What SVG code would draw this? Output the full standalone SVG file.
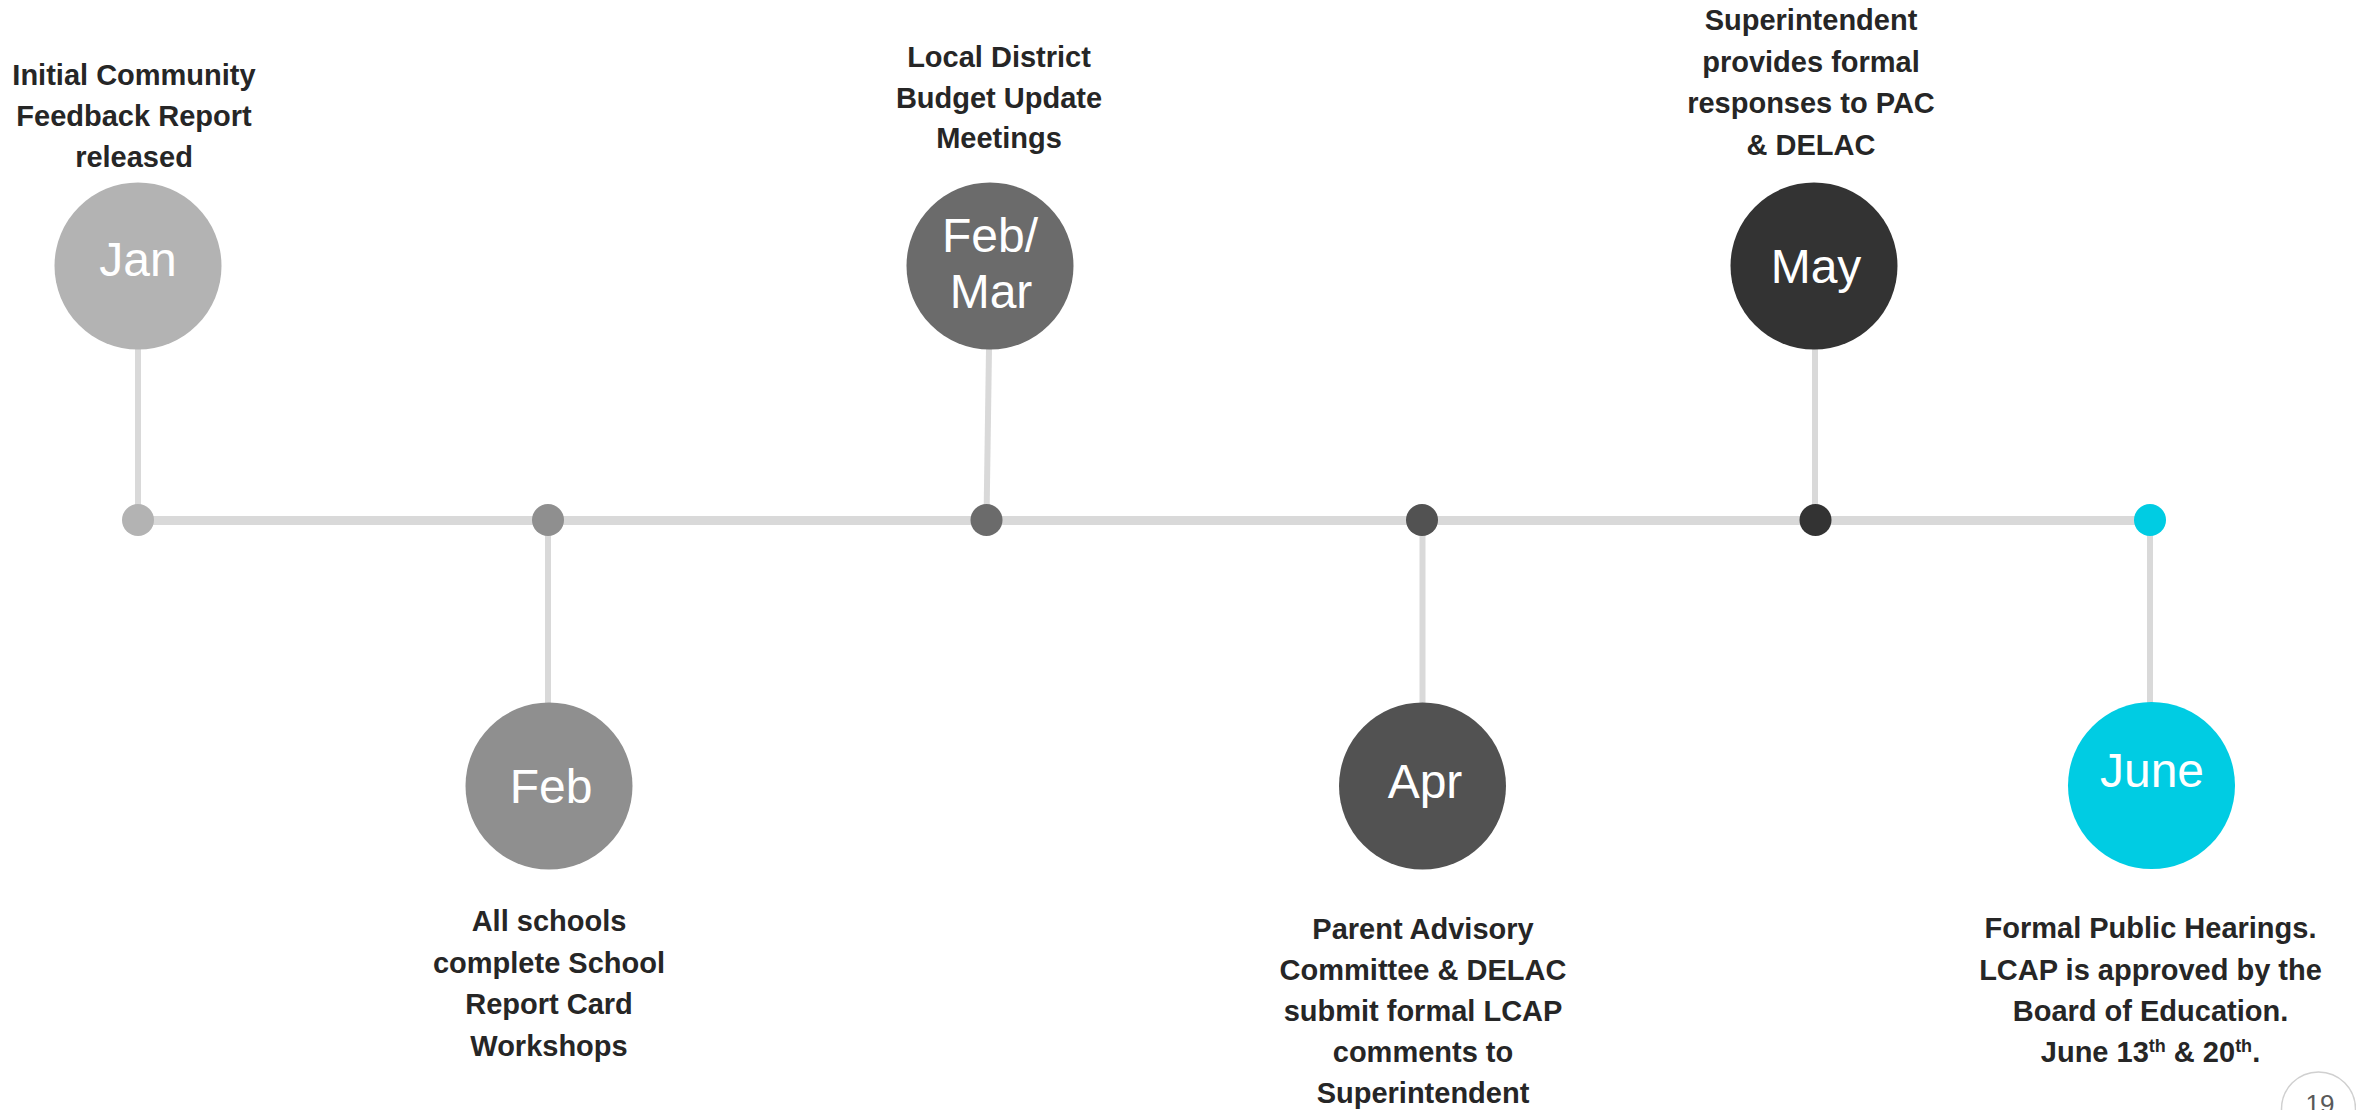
<svg xmlns="http://www.w3.org/2000/svg" width="2356" height="1110" viewBox="0 0 2356 1110">
<style>
.conn{stroke:#D9D9D9;stroke-width:6;fill:none}
.axis{stroke:#D9D9D9;stroke-width:9;fill:none}
.month{font-family:"Liberation Sans",Arial,sans-serif;font-size:48px;fill:#FFFFFF;text-anchor:middle}
.desc{font-family:"Liberation Sans",Arial,sans-serif;font-size:29px;font-weight:bold;fill:#262626;text-anchor:middle}
.sup{font-size:18px}
.page{font-family:"Liberation Sans",Arial,sans-serif;font-size:26px;fill:#595959;text-anchor:middle}
</style>
<rect width="2356" height="1110" fill="#FFFFFF"/>
<g id="connectors">
<line class="axis" x1="138" y1="520.5" x2="2150" y2="520.5"/>
<line class="conn" x1="138" y1="349" x2="138" y2="520"/>
<line class="conn" x1="548" y1="520" x2="548" y2="703"/>
<line class="conn" x1="989" y1="349" x2="986.5" y2="520"/>
<line class="conn" x1="1422.5" y1="520" x2="1422.5" y2="703"/>
<line class="conn" x1="1815" y1="349" x2="1815" y2="520"/>
<line class="conn" x1="2150" y1="520" x2="2150" y2="703"/>
</g>
<g id="node-jan">
<circle cx="138" cy="266" r="83.5" fill="#B3B3B3"/>
<circle cx="138" cy="520" r="16" fill="#B3B3B3"/>
<text class="month" x="138" y="276">Jan</text>
<text class="desc" x="134"><tspan x="134" y="85">Initial Community</tspan><tspan x="134" y="126">Feedback Report</tspan><tspan x="134" y="167">released</tspan></text>
</g>
<g id="node-feb">
<circle cx="549" cy="786" r="83.5" fill="#8F8F8F"/>
<circle cx="548" cy="520" r="16" fill="#8F8F8F"/>
<text class="month" x="551" y="803">Feb</text>
<text class="desc"><tspan x="549" y="931">All schools</tspan><tspan x="549" y="972.5">complete School</tspan><tspan x="549" y="1014">Report Card</tspan><tspan x="549" y="1055.5">Workshops</tspan></text>
</g>
<g id="node-febmar">
<circle cx="990" cy="266" r="83.5" fill="#6B6B6B"/>
<circle cx="986.5" cy="520" r="16" fill="#6B6B6B"/>
<text class="month"><tspan x="990" y="252">Feb/</tspan><tspan x="991" y="308">Mar</tspan></text>
<text class="desc"><tspan x="999" y="67">Local District</tspan><tspan x="999" y="107.5">Budget Update</tspan><tspan x="999" y="148">Meetings</tspan></text>
</g>
<g id="node-apr">
<circle cx="1422.5" cy="786" r="83.5" fill="#525252"/>
<circle cx="1422" cy="520" r="16" fill="#525252"/>
<text class="month" x="1425" y="798">Apr</text>
<text class="desc"><tspan x="1423" y="939">Parent Advisory</tspan><tspan x="1423" y="980">Committee &amp; DELAC</tspan><tspan x="1423" y="1021">submit formal LCAP</tspan><tspan x="1423" y="1062">comments to</tspan><tspan x="1423" y="1103">Superintendent</tspan></text>
</g>
<g id="node-may">
<circle cx="1814" cy="266" r="83.5" fill="#333333"/>
<circle cx="1815.5" cy="520" r="16" fill="#333333"/>
<text class="month" x="1816" y="283">May</text>
<text class="desc"><tspan x="1811" y="30">Superintendent</tspan><tspan x="1811" y="71.5">provides formal</tspan><tspan x="1811" y="113">responses to PAC</tspan><tspan x="1811" y="154.5">&amp; DELAC</tspan></text>
</g>
<g id="node-june">
<circle cx="2151.5" cy="785.5" r="83.5" fill="#00CCE3"/>
<circle cx="2150" cy="520" r="16" fill="#00CCE3"/>
<text class="month" x="2152" y="787">June</text>
<text class="desc"><tspan x="2150.5" y="938">Formal Public Hearings.</tspan><tspan x="2150.5" y="979.5">LCAP is approved by the</tspan><tspan x="2150.5" y="1021">Board of Education.</tspan><tspan x="2150.5" y="1062">June 13<tspan class="sup" dy="-10">th</tspan><tspan dy="10"> &amp; 20</tspan><tspan class="sup" dy="-10">th</tspan><tspan dy="10">.</tspan></tspan></text>
</g>
<g id="page-number">
<circle cx="2318.5" cy="1109" r="37" fill="none" stroke="#D0D0D0" stroke-width="1.5"/>
<text class="page" x="2320" y="1113">19</text>
</g>
</svg>
